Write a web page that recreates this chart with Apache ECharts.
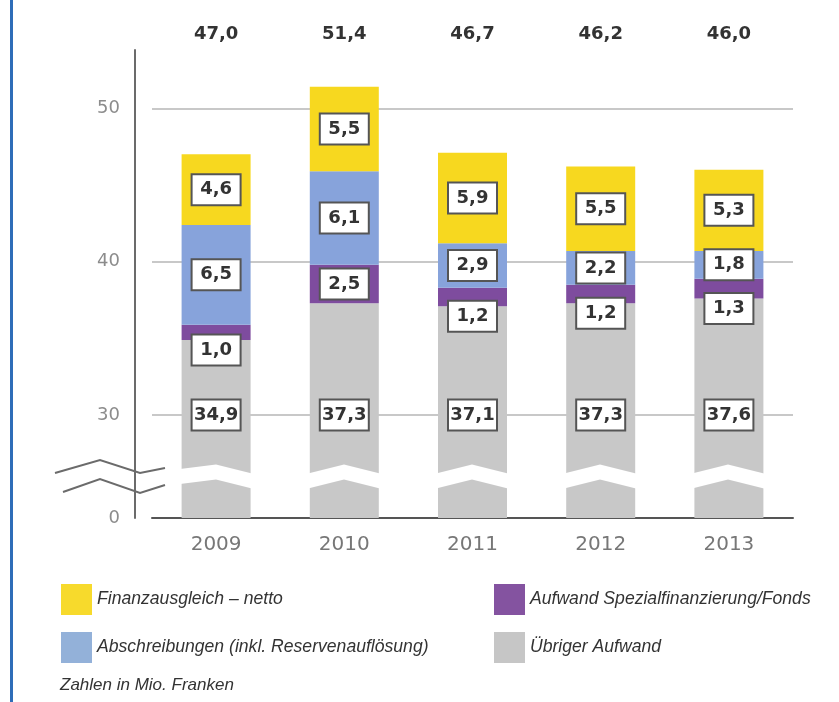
<!DOCTYPE html>
<html>
<head>
<meta charset="utf-8">
<script src="https://cdn.jsdelivr.net/npm/echarts@6/dist/echarts.min.js"></script>
<style>
  html, body { margin: 0; padding: 0; background: #fff; }
  #chart { width: 839px; height: 702px; }
</style>
</head>
<body>
<div id="chart"></div>
<script>
// Werte in Mio. Franken
const years = ['2009', '2010', '2011', '2012', '2013'];
const totals = [47.0, 51.4, 46.7, 46.2, 46.0];
const finanzausgleich = [4.6, 5.5, 5.9, 5.5, 5.3];
const abschreibungen = [6.5, 6.1, 2.9, 2.2, 1.8];
const spezialfinanzierung = [1.0, 2.5, 1.2, 1.2, 1.3];
const uebrigerAufwand = [34.9, 37.3, 37.1, 37.3, 37.6];
const yTicks = [0, 30, 40, 50];
const yGridLines = [30, 40, 50];

const fmt = v => v.toFixed(1).replace('.', ',');

const font = '"Liberation Sans", Arial, sans-serif';
const numFont = '"DejaVu Sans", sans-serif';
const boxLabel = {
  show: true,
  position: 'inside',
  formatter: p => fmt(p.value),
  color: '#333',
  fontFamily: numFont,
  fontWeight: 'bold',
  fontSize: 18,
  backgroundColor: '#fff',
  borderColor: '#555',
  borderWidth: 2,
  width: 47,
  height: 29,
  lineHeight: 29,
  align: 'center',
  verticalAlign: 'middle'
};
const legendText = { fontFamily: font, fontStyle: 'italic', fontSize: 17.6, color: '#333' };

const chart = echarts.init(document.getElementById('chart'));

chart.setOption({
  animation: false,
  backgroundColor: '#fff',
  grid: { left: 152, right: 46, top: 50, bottom: 184 },
  legend: [
    {
      left: 61, top: 584, orient: 'vertical', padding: 0,
      itemWidth: 31, itemHeight: 31, itemGap: 17, icon: 'rect',
      selectedMode: false,
      textStyle: legendText,
      data: [
        { name: 'Finanzausgleich – netto', itemStyle: { color: '#f7da2c' } },
        { name: 'Abschreibungen (inkl. Reservenauflösung)', itemStyle: { color: '#93b1d9' } }
      ]
    },
    {
      left: 494, top: 584, orient: 'vertical', padding: 0,
      itemWidth: 31, itemHeight: 31, itemGap: 17, icon: 'rect',
      selectedMode: false,
      textStyle: legendText,
      data: [
        { name: 'Aufwand Spezialfinanzierung/Fonds', itemStyle: { color: '#8453a0' } },
        { name: 'Übriger Aufwand', itemStyle: { color: '#c6c6c6' } }
      ]
    }
  ],
  xAxis: [
    {
      type: 'category',
      data: years,
      axisLine: { lineStyle: { color: '#555', width: 2 } },
      axisTick: { inside: true, length: 23, lineStyle: { color: '#555', width: 2 } },
      axisLabel: { margin: 17, color: '#777', fontSize: 20, fontFamily: numFont }
    },
    {
      type: 'category',
      position: 'top',
      data: totals.map(fmt),
      axisLine: { show: false },
      axisTick: { show: false },
      axisLabel: { margin: 7, color: '#333', fontSize: 18, fontWeight: 'bold', fontFamily: numFont }
    }
  ],
  yAxis: {
    type: 'value',
    min: 0,
    max: 53.8,
    interval: 10,
    offset: 17,
    breaks: [{ start: 2, end: 26.3, gap: 1 }],
    breakArea: {
      show: true,
      expandOnClick: false,
      zigzagAmplitude: -8,
      zigzagMinSpan: 64,
      zigzagMaxSpan: 64,
      zigzagZ: 100,
      itemStyle: { color: '#fff', borderWidth: 0, borderColor: '#fff', opacity: 1 }
    },
    axisLine: { show: true, lineStyle: { color: '#6b6b6b', width: 2 } },
    axisTick: { show: false, customValues: yTicks },
    axisLabel: {
      margin: 15, color: '#8c8c8c', fontSize: 18, fontFamily: numFont,
      customValues: yTicks
    },
    splitLine: { show: true, customValues: yGridLines, lineStyle: { color: '#c8c8c8', width: 2 } }
  },
  series: [
    {
      name: 'Übriger Aufwand',
      type: 'bar', stack: 'a', barWidth: 69,
      itemStyle: { color: '#c8c8c8' },
      label: Object.assign({}, boxLabel, { position: 'insideBottom', distance: 103 }),
      data: uebrigerAufwand
    },
    {
      name: 'Aufwand Spezialfinanzierung/Fonds',
      type: 'bar', stack: 'a', barWidth: 69,
      itemStyle: { color: '#7e4c9e' },
      label: Object.assign({}, boxLabel, { position: 'bottom', distance: 10 }),
      data: spezialfinanzierung.map(v => (v >= 2 ? { value: v, label: { position: 'inside' } } : v))
    },
    {
      name: 'Abschreibungen (inkl. Reservenauflösung)',
      type: 'bar', stack: 'a', barWidth: 69,
      itemStyle: { color: '#87a3db' },
      label: boxLabel,
      data: abschreibungen
    },
    {
      name: 'Finanzausgleich – netto',
      type: 'bar', stack: 'a', barWidth: 69,
      itemStyle: { color: '#f7d81f' },
      label: boxLabel,
      data: finanzausgleich
    }
  ],
  graphic: [
    { type: 'rect', left: 10, top: 0, shape: { width: 3, height: 702 }, style: { fill: '#2f6db8' } },
    // Achsenlinie durch den Achsenbruch weiterführen
    {
      type: 'line', z: 120,
      shape: { x1: 135, y1: 460, x2: 135, y2: 500 },
      style: { stroke: '#6b6b6b', lineWidth: 2 }
    },
    {
      type: 'polyline', z: 120,
      shape: { points: [[55, 473], [100, 460], [140, 473], [165, 468]] },
      style: { stroke: '#6b6b6b', lineWidth: 2, fill: null }
    },
    {
      type: 'polyline', z: 120,
      shape: { points: [[63, 492], [100, 479], [140, 493], [165, 485]] },
      style: { stroke: '#6b6b6b', lineWidth: 2, fill: null }
    },
    {
      type: 'text', left: 60, top: 677,
      style: { text: 'Zahlen in Mio. Franken', fill: '#333', font: 'italic 17px "Liberation Sans", Arial, sans-serif' }
    }
  ]
});
</script>
</body>
</html>
